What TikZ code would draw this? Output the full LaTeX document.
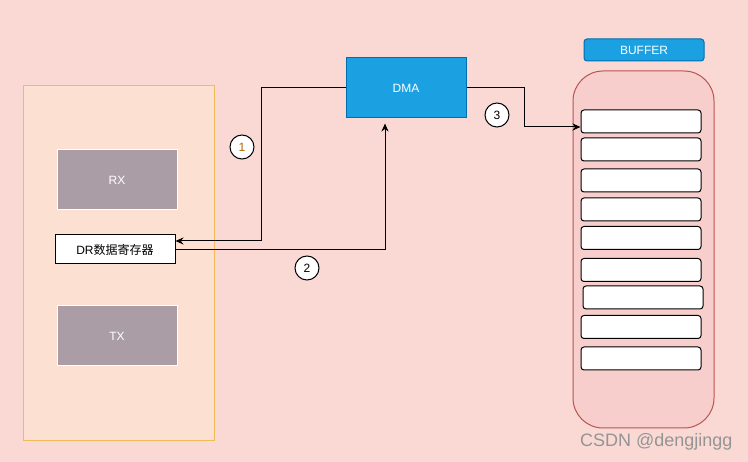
\documentclass[tikz,border=0pt]{standalone}
\usepackage{fontspec}
\setmainfont{Liberation Sans}
\newfontfamily\cjk{Noto Sans CJK SC}
\usepackage{tikz}
\usetikzlibrary{arrows.meta}

\definecolor{bgpink}{HTML}{FAD9D5}
\definecolor{uartfill}{HTML}{FCE0D1}
\definecolor{uartline}{HTML}{F2BB5A}
\definecolor{regfill}{HTML}{AA9DA5}
\definecolor{dmafill}{HTML}{1BA1E2}
\definecolor{dmaline}{HTML}{006EAF}
\definecolor{buffill}{HTML}{F8CECC}
\definecolor{bufline}{HTML}{B85450}
\definecolor{numorange}{HTML}{B46504}

\tikzset{
  txt/.style={font=\fontsize{12}{14}\selectfont},
  regbox/.style={txt,draw=white,fill=regfill,text=white,minimum width=120pt,minimum height=60pt,inner sep=0pt},
  bluebox/.style={txt,draw=dmaline,fill=dmafill,text=white,inner sep=0pt},
  slot/.style={draw=black,fill=white,rounded corners=3pt,minimum width=120pt,minimum height=23pt,inner sep=0pt},
  stepnum/.style={txt,circle,draw=black,fill=white,minimum size=24pt,inner sep=0pt},
  arr/.style={-{Stealth[length=8pt,width=7pt]}}
}

\begin{document}
\begin{tikzpicture}[x=1pt,y=1pt,yscale=-1,line width=1pt]
\useasboundingbox[fill=bgpink] (0,0) rectangle (748,462);

% UART block
\node (uart) [draw=uartline,fill=uartfill,minimum width=191pt,minimum height=355pt,inner sep=0pt] at (118.5,263.5) {};
\node (rx) [regbox] at (117,180) {RX};
\node (tx) [regbox] at (117,336) {TX};
\node (dr) [txt,draw=black,fill=white,minimum width=120pt,minimum height=29pt,inner sep=0pt] at (115,249.5) {DR{\cjk 数据寄存器}};

% DMA
\node (dma) [bluebox,minimum width=120pt,minimum height=60pt] at (406,88) {DMA};

% Buffer
\node (bufname) [bluebox,rounded corners=3pt,minimum width=120pt,minimum height=22pt] at (644,50) {BUFFER};
\node (buf) [draw=bufline,fill=buffill,rounded corners=30pt,minimum width=141pt,minimum height=357pt,inner sep=0pt] at (643.5,249.5) {};
\node (b1) [slot] at (641,121.5) {};
\node (b2) [slot] at (641,149.5) {};
\node (b3) [slot] at (641,180.5) {};
\node (b4) [slot] at (641,209.5) {};
\node (b5) [slot] at (641,238) {};
\node (b6) [slot] at (641,270) {};
\node (b7) [slot] at (643,297.5) {};
\node (b8) [slot] at (641,327) {};
\node (b9) [slot] at (641,358.5) {};

% bends
\coordinate (k1) at (261,241);
\coordinate (k2) at (385,250);
\coordinate (k3) at (524,127);

%Straight Lines
\draw [arr] (dma.west) -| (k1) -- (k1 -| dr.east);
\draw [arr,shorten >=5pt] (k2 -| dr.east) -- (k2) -- (k2 |- dma.south);
\draw [arr] (dma.east) -| (k3) -- (k3 -| b1.west);

% step numbers
\node (s1) [stepnum,text=numorange] at (242,147) {1};
\node (s2) [stepnum] at (307,268) {2};
\node (s3) [stepnum] at (497,115) {3};

% Text Node
\node (mark) [anchor=east,text=black!42,font=\fontsize{18}{20}\selectfont,inner sep=0pt] at (733,442) {CSDN @dengjingg};

\end{tikzpicture}
\end{document}
